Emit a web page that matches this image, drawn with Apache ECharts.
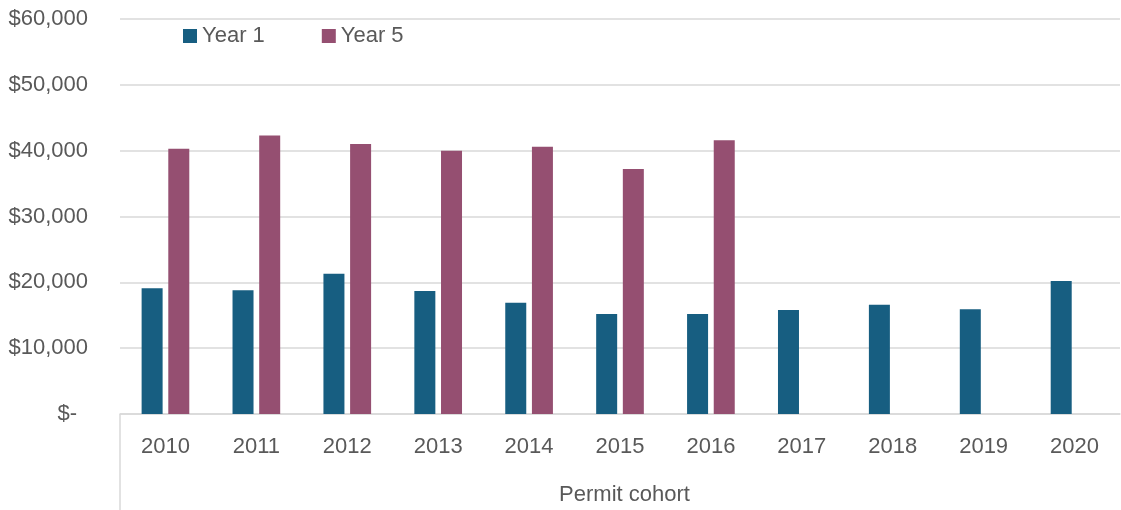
<!DOCTYPE html>
<html>
<head>
<meta charset="utf-8">
<style>
  html, body { margin: 0; padding: 0; background: #ffffff; }
  #chart { width: 1121px; height: 510px; }
</style>
<script src="https://cdn.jsdelivr.net/npm/echarts@6/dist/echarts.min.js"></script>
</head>
<body>
<div id="chart"></div>
<script>
// Average earnings per permit cohort, first and fifth year
const cohorts = ['2010', '2011', '2012', '2013', '2014', '2015', '2016', '2017', '2018', '2019', '2020'];
const year1 = [19100, 18800, 21300, 18700, 16900, 15200, 15200, 15800, 16600, 15900, 20200];
const year5 = [40300, 42300, 41000, 40000, 40600, 37200, 41600, null, null, null, null];
const yTicks = [0, 10000, 20000, 30000, 40000, 50000, 60000];

const FONT = "'Liberation Sans', Arial, sans-serif";
const FS = 22;
const TEXT = '#595959';
const GRID = '#d9d9d9';
const gridLeft = 120, gridTop = 19, gridBottom = 96;

const chart = echarts.init(document.getElementById('chart'));

function money(v) {
  if (v === 0) return '{z|$-}';
  return '$' + v.toLocaleString('en-US');
}

chart.setOption({
  animation: false,
  textStyle: { fontFamily: FONT },
  grid: {
    left: gridLeft, right: 1, top: gridTop, bottom: gridBottom,
    containLabel: false, outerBoundsMode: 'none'
  },
  legend: {
    left: 178,
    top: 20,
    itemWidth: 14,
    itemHeight: 14,
    itemGap: 57,
    icon: 'rect',
    textStyle: { fontFamily: FONT, fontSize: FS, color: TEXT },
    data: ['Year 1', 'Year 5']
  },
  xAxis: {
    type: 'category',
    data: cohorts,
    name: 'Permit cohort',
    nameLocation: 'middle',
    nameGap: 70,
    nameTextStyle: { fontFamily: FONT, fontSize: FS, color: TEXT, padding: [0, 0, 0, 9] },
    axisLine: { show: true, lineStyle: { color: GRID, width: 1.5 } },
    axisTick: { show: false },
    axisLabel: { fontFamily: FONT, fontSize: FS, color: TEXT, margin: 22 },
    splitLine: { show: false }
  },
  yAxis: {
    type: 'value',
    min: yTicks[0],
    max: yTicks[yTicks.length - 1],
    interval: yTicks[1] - yTicks[0],
    axisLine: { show: false },
    axisTick: { show: false },
    axisLabel: {
      fontFamily: FONT, fontSize: FS, color: TEXT, margin: 32,
      formatter: money,
      rich: { z: { fontFamily: FONT, fontSize: FS, color: TEXT, padding: [0, 11, 0, 0] } }
    },
    splitLine: { lineStyle: { color: GRID, width: 1.5 } }
  },
  series: [
    {
      name: 'Year 1',
      type: 'bar',
      data: year1,
      barWidth: 21,
      barGap: '27%',
      itemStyle: { color: '#175e81' }
    },
    {
      name: 'Year 5',
      type: 'bar',
      data: year5,
      barWidth: 21,
      barGap: '27%',
      itemStyle: { color: '#954f71' }
    }
  ],
  graphic: [
    {
      type: 'line',
      shape: { x1: gridLeft, y1: 510 - gridBottom, x2: gridLeft, y2: 510 },
      style: { stroke: GRID, lineWidth: 1.5 }
    }
  ]
});
</script>
</body>
</html>
